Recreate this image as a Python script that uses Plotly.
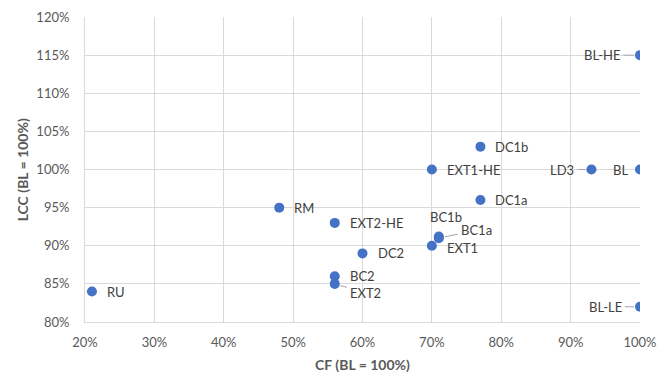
import plotly.graph_objects as go

# Scenario results relative to the baseline (BL = 100%)
names = ["BL", "BL-HE", "BL-LE", "LD3", "DC1a", "DC1b", "EXT1-HE", "EXT1",
         "BC1a", "BC1b", "DC2", "EXT2-HE", "BC2", "EXT2", "RM", "RU"]
cf = [1.00, 1.00, 1.00, 0.93, 0.77, 0.77, 0.70, 0.70,
      0.71, 0.71, 0.60, 0.56, 0.56, 0.56, 0.48, 0.21]
lcc = [1.00, 1.15, 0.82, 1.00, 0.96, 1.03, 1.00, 0.90,
       0.91, 0.912, 0.89, 0.93, 0.86, 0.85, 0.95, 0.84]

FONT = "Lato, 'Open Sans', sans-serif"
LABEL_COLOR = "#404040"
AXIS_COLOR = "#595959"
GRID = "#D9D9D9"

# Label placement: (dx, dy, leader line) in pixels; default is to the right
placement = {
    "BL-HE": (-38, 0, True),
    "LD3": (-29, 0, True),
    "BL": (-20, 0, False),
    "BL-LE": (-35, 0, True),
    "BC1a": (38, -8, True),
    "BC1b": (7, 20, False),
    "EXT2": (31, 9, True),
}

fig = go.Figure(go.Scatter(
    x=cf, y=lcc, mode="markers",
    marker=dict(color="#4472C4", size=10),
    hoverinfo="skip",
))

annotations = []
for n, xv, yv in zip(names, cf, lcc):
    dx, dy, leader = placement.get(n, (None, None, False))
    base = dict(x=xv, y=yv, xref="x", yref="y", text=n,
                font=dict(family=FONT, size=13, color=LABEL_COLOR))
    if dx is None:
        annotations.append(dict(base, showarrow=False, xanchor="left", xshift=13,
                                yshift=-2 if n == "EXT1" else 0))
    elif leader:
        annotations.append(dict(base, showarrow=True, ax=dx, ay=dy,
                                arrowhead=0, arrowwidth=1, arrowcolor="#A6A6A6",
                                standoff=6, startstandoff=2))
    else:
        annotations.append(dict(base, showarrow=False, xshift=dx, yshift=dy))

# Vertical axis title, placed beside the tick labels
annotations.append(dict(
    text="<b>LCC (BL = 100%)</b>", textangle=-90, showarrow=False,
    xref="paper", yref="paper", x=-0.112, y=0.5,
    xanchor="center", yanchor="middle",
    font=dict(family=FONT, size=14, color=AXIS_COLOR),
))

fig.update_layout(
    width=657, height=377,
    margin=dict(l=85, r=17, t=17, b=55),
    paper_bgcolor="white", plot_bgcolor="white",
    showlegend=False,
    font=dict(family=FONT, size=13, color=AXIS_COLOR),
    annotations=annotations,
    xaxis=dict(
        range=[0.2, 1.0], dtick=0.1, tickformat=".0%", automargin=False,
        showgrid=True, gridcolor=GRID, gridwidth=1,
        showline=True, linecolor=GRID, linewidth=1, mirror=False,
        zeroline=False, ticklabelstandoff=8,
        tickfont=dict(family=FONT, size=13, color=AXIS_COLOR),
        title=dict(text="<b>CF (BL = 100%)</b>", standoff=11,
                   font=dict(family=FONT, size=14, color=AXIS_COLOR)),
    ),
    yaxis=dict(
        range=[0.8, 1.2], dtick=0.05, tickformat=".0%", automargin=False,
        showgrid=True, gridcolor=GRID, gridwidth=1,
        showline=True, linecolor=GRID, linewidth=1,
        zeroline=False, ticklabelstandoff=12,
        tickfont=dict(family=FONT, size=13, color=AXIS_COLOR),
    ),
)

fig.write_html("out.html")
